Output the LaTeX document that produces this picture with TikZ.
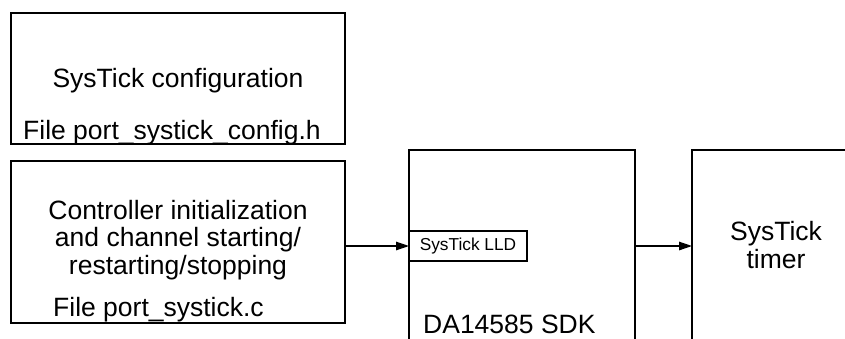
\documentclass[tikz,border=0pt]{standalone}
\usepackage{fontspec}
\setmainfont{Liberation Sans}
\usetikzlibrary{arrows.meta}
\begin{document}
\begin{tikzpicture}[x=1pt,y=-1pt,
  box/.style={draw, line width=1.3pt, inner sep=0pt, outer sep=0pt, anchor=north west},
  big/.style={font=\fontsize{26.5}{30}\selectfont, inner sep=0pt},
  small/.style={font=\fontsize{17.3}{20}\selectfont, inner sep=0pt},
  link/.style={-{Triangle[length=13pt,width=8.5pt]}, line width=1.3pt}]
\useasboundingbox (0,0) rectangle (845,338);
\clip (0,0) rectangle (845,338);

% configuration header block
\node[box, minimum width=334pt, minimum height=131pt] (cfg) at (11,13) {};
\node[big, anchor=base] (cfgt) at (178,87) {SysTick configuration};
\node[big, anchor=base west] (cfgf) at (23,139) {File port\_systick\_config.h};

% controller block
\node[box, minimum width=334pt, minimum height=162pt] (ctl) at (11,161) {};
\node[big, anchor=base] (ctl1) at (178,219) {Controller initialization};
\node[big, anchor=base] (ctl2) at (178,246) {and channel starting/};
\node[big, anchor=base] (ctl3) at (178,274) {restarting/stopping};
\node[big, anchor=base west] (ctlf) at (53,316) {File port\_systick.c};

% SDK block with the low level driver
\node[box, minimum width=226pt, minimum height=250pt] (sdk) at (409,150) {};
\node[box, minimum width=118pt, minimum height=30pt] (lld) at (409,231) {};
\node[small] (lldt) at (lld.center) {SysTick LLD};
\node[big, anchor=base west] (sdkt) at (423,333) {DA14585 SDK};

% timer block
\node[box, minimum width=170pt, minimum height=250pt] (tmr) at (692,150) {};
\node[big, anchor=base] (tmr1) at (776,240) {SysTick};
\node[big, anchor=base] (tmr2) at (776,268) {timer};

% connectors
\draw[link] (lld.west -| ctl.east) -- (lld.west);
\draw[link] (lld.east -| sdk.east) -- (lld.east -| tmr.west);
\end{tikzpicture}
\end{document}
